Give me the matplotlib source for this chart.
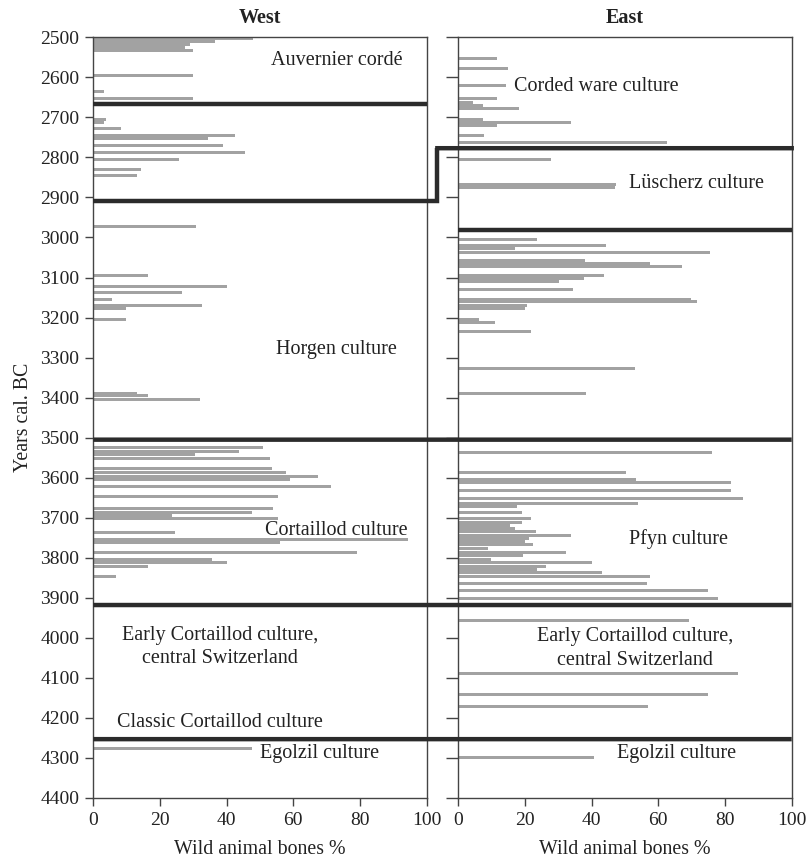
import matplotlib
matplotlib.use("Agg")
import matplotlib.pyplot as plt
from matplotlib.patches import ConnectionPatch

plt.rcParams['font.family'] = ['Liberation Serif', 'DejaVu Serif']

# ---------------- data ----------------
west_years = [2503.5, 2511, 2517.5, 2525, 2533.5, 2595, 2635.5, 2652.5, 2706, 2713.5,
              2729, 2746, 2753.5, 2770, 2788, 2806, 2830, 2846, 2972, 3094,
              3122.5, 3138, 3154.5, 3170.5, 3177.5, 3204, 3388.5, 3395.5, 3404, 3525.5,
              3534, 3543, 3551.5, 3578, 3587, 3596, 3604, 3621, 3646, 3677,
              3686, 3694, 3703, 3736, 3755, 3762, 3787, 3803.5, 3813, 3821,
              3847, 4276]
west_vals = [48, 36.5, 29, 27.5, 30, 30, 3.3, 30, 3.7, 3.3,
             8.3, 42.4, 34.5, 38.9, 45.4, 25.7, 14.2, 13.2, 30.7, 16.3,
             40.1, 26.5, 5.7, 32.5, 9.8, 9.9, 13.2, 16.5, 31.9, 50.8,
             43.8, 30.5, 53, 53.7, 57.7, 67.3, 59, 71.2, 55.3, 53.8,
             47.7, 23.5, 55.3, 24.6, 94.3, 56, 79, 35.5, 40.1, 16.3,
             6.7, 47.5]

east_years = [2552.5, 2579, 2621, 2654, 2662, 2670, 2677.5, 2706, 2713.5, 2721,
              2746.5, 2763.5, 2806, 2868, 2876, 3004.5, 3019, 3026.5, 3037, 3056.5,
              3064, 3071.5, 3094, 3102.5, 3111, 3129, 3154.5, 3161, 3169.5, 3177,
              3204, 3211.5, 3235, 3328, 3389, 3537, 3587, 3604, 3613, 3631,
              3653, 3664, 3672, 3687, 3702.5, 3711, 3720, 3728, 3735, 3744,
              3751, 3759, 3767.5, 3776, 3786, 3795, 3804, 3813, 3821, 3830,
              3838, 3847, 3864, 3881, 3902, 3957.5, 4089, 4141.5, 4172, 4298]
east_vals = [11.7, 14.8, 14.3, 11.7, 4.5, 7.3, 18.2, 7.3, 33.7, 11.7,
             7.7, 62.5, 27.7, 47.3, 47.0, 23.7, 44.3, 17, 75.5, 38.1,
             57.5, 67, 43.8, 37.7, 30.3, 34.3, 69.7, 71.7, 20.5, 20,
             6.3, 11, 21.8, 52.9, 38.3, 76.2, 50.2, 53.2, 81.8, 81.8,
             85.3, 53.8, 17.5, 19, 21.8, 19, 15.5, 17, 23.3, 33.7,
             21.3, 20, 22.3, 8.8, 32.2, 19.3, 9.8, 40.1, 26.3, 23.5,
             43, 57.5, 56.7, 74.8, 77.8, 69.3, 83.8, 74.8, 56.8, 40.8]

# culture boundaries (years cal. BC)
west_only_bounds = [2666]
east_only_bounds = [2982]
shared_bounds = [3505, 3918, 4253]
step_west_year = 2909
step_east_year = 2777

west_labels = [("Auvernier cordé", 73, 2557),
               ("Horgen culture", 73, 3281),
               ("Cortaillod culture", 73, 3733),
               ("Early Cortaillod culture,", 38, 3993),
               ("central Switzerland", 38, 4052),
               ("Classic Cortaillod culture", 38, 4212),
               ("Egolzil culture", 68, 4290)]
east_labels = [("Corded ware culture", 41.5, 2622),
               ("Lüscherz culture", 71.5, 2864),
               ("Pfyn culture", 66, 3754),
               ("Early Cortaillod culture,", 53, 3997),
               ("central Switzerland", 53, 4056),
               ("Egolzil culture", 65.5, 4290)]

xticks = [0, 20, 40, 60, 80, 100]
yticks = list(range(2500, 4401, 100))

# ---------------- figure ----------------
W, H = 807, 866
fig = plt.figure(figsize=(W / 100, H / 100), dpi=100)
bottom = 1 - 798 / H
height = (798 - 37.3) / H
axW = fig.add_axes([93.3 / W, bottom, 333.4 / W, height])
axE = fig.add_axes([458.3 / W, bottom, 333.4 / W, height])

bar_color = '#a2a2a2'
spine_color = '#444444'
line_color = '#2b2b2b'
lw_thick = 3.2
bar_h = 7.5

for ax, yrs, vals, title in [(axW, west_years, west_vals, 'West'),
                             (axE, east_years, east_vals, 'East')]:
    ax.barh(yrs, vals, height=bar_h, color=bar_color, linewidth=0, zorder=2)
    ax.set_xlim(0, 100)
    ax.set_ylim(4400, 2500)
    ax.set_xticks(xticks)
    ax.set_yticks(yticks)
    ax.tick_params(axis='both', direction='out', length=6, width=1,
                   color=spine_color, labelsize=14, pad=4, labelcolor='#222222')
    for s in ax.spines.values():
        s.set_color(spine_color)
        s.set_linewidth(1.0)
    ax.set_xlabel('Wild animal bones %', fontsize=14.3, labelpad=8, color='#222222')
    ax.set_title(title, fontsize=14.5, fontweight='bold', pad=10, color='#222222')

axW.set_ylabel('Years cal. BC', fontsize=14.3, labelpad=5, color='#222222')
axE.set_yticklabels([])
axE.tick_params(axis='y', length=8.3)

for txt, x, y in west_labels:
    axW.text(x, y, txt, ha='center', va='center', fontsize=14.5, color='#222222', zorder=3)
for txt, x, y in east_labels:
    axE.text(x, y, txt, ha='center', va='center', fontsize=14.5, color='#222222', zorder=3)

# boundaries
for y in west_only_bounds:
    axW.plot([0, 100], [y, y], color=line_color, lw=lw_thick, zorder=4, solid_capstyle='butt')
for y in east_only_bounds:
    axE.plot([0, 100], [y, y], color=line_color, lw=lw_thick, zorder=4, solid_capstyle='butt')
for y in shared_bounds:
    cp = ConnectionPatch(xyA=(0, y), coordsA=axW.transData, xyB=(100, y), coordsB=axE.transData,
                         color=line_color, lw=lw_thick, zorder=4, capstyle='butt')
    fig.add_artist(cp)

# step between West and East (Horgen / Lüscherz)
gap_x = 103.2
axW.plot([0, gap_x, gap_x], [step_west_year, step_west_year, step_east_year],
         color=line_color, lw=lw_thick, zorder=4, clip_on=False, solid_joinstyle='miter',
         solid_capstyle='butt')
cp = ConnectionPatch(xyA=(gap_x, step_east_year), coordsA=axW.transData,
                     xyB=(100, step_east_year), coordsB=axE.transData,
                     color=line_color, lw=lw_thick, zorder=4, capstyle='projecting')
fig.add_artist(cp)

fig.savefig('out.png', dpi=100)
